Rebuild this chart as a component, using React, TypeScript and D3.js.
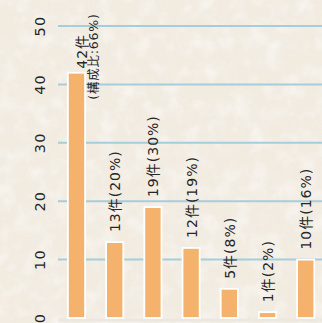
import React from "react";
import * as d3 from "d3";

const categories = ["A", "B", "C", "D", "E", "F", "G"];
const counts = [42, 13, 19, 12, 5, 1, 10];
const percents = [66, 20, 30, 19, 8, 2, 16];
const yTicks = [0, 10, 20, 30, 40, 50];

const W = 322;
const H = 323;
const FAMILY = "'DejaVu Sans', 'Noto Sans CJK JP', sans-serif";

export default function App() {
  const x = d3
    .scaleBand<string>()
    .domain(categories)
    .range([57.4, 57.4 + categories.length * 38.2])
    .paddingInner(0.55)
    .paddingOuter(0.275);
  const y = d3.scaleLinear().domain([0, 50]).range([318, 26]);
  const plotLeft = 58;

  const rotText = (
    cx: number,
    cy: number,
    text: string,
    anchor: string,
    size: number,
    spacing: number,
    key: string
  ) => (
    <text
      key={key}
      transform={`translate(${cx},${cy}) rotate(-90)`}
      textAnchor={anchor}
      dominantBaseline="central"
      fontSize={size}
      fontFamily={FAMILY}
      letterSpacing={spacing}
      fill="#262626"
    >
      {text}
    </text>
  );

  return (
    <div style={{ position: "fixed", left: 0, top: 0, margin: 0 }}>
      <svg width={W} height={H} style={{ display: "block" }}>
        <defs>
          <filter id="paper" x="0" y="0" width="100%" height="100%">
            <feTurbulence type="fractalNoise" baseFrequency="0.03" numOctaves="4" seed="7" result="n" />
            <feColorMatrix
              in="n"
              type="matrix"
              values="0 0 0 0 0.90  0 0 0 0 0.86  0 0 0 0 0.79  0 0 0 1.6 -0.6"
            />
          </filter>
          <filter id="paper2" x="0" y="0" width="100%" height="100%">
            <feTurbulence type="fractalNoise" baseFrequency="0.06" numOctaves="3" seed="11" result="n" />
            <feColorMatrix
              in="n"
              type="matrix"
              values="0 0 0 0 0.98  0 0 0 0 0.97  0 0 0 0 0.95  0 0 0 1.6 -0.7"
            />
          </filter>
        </defs>
        <rect x={0} y={0} width={W} height={H} fill="#f1ebe0" />
        <rect x={0} y={0} width={W} height={H} filter="url(#paper)" opacity={0.9} />
        <rect x={0} y={0} width={W} height={H} filter="url(#paper2)" opacity={0.8} />
        {yTicks
          .filter((t) => t > 0)
          .map((t) => (
            <line
              key={"g" + t}
              x1={plotLeft}
              x2={W}
              y1={y(t)}
              y2={y(t)}
              stroke="#a6cddb"
              strokeWidth={2}
            />
          ))}
        <line x1={plotLeft} x2={W} y1={320} y2={320} stroke="#ebe8e2" strokeWidth={3} />
        {yTicks.map((t) => rotText(40, y(t), String(t), "middle", 14.5, 1.2, "yt" + t))}
        {categories.map((c, i) => (
          <rect
            key={"b" + c}
            x={x(c)!}
            y={y(counts[i])}
            width={x.bandwidth()}
            height={y(0) - y(counts[i])}
            fill="#f5b26d"
            stroke="#ffffff"
            strokeWidth={1.8}
          />
        ))}
        {categories.map((c, i) => {
          const cx = x(c)! + x.bandwidth() / 2;
          const top = y(counts[i]);
          if (i === 0) {
            return (
              <g key={"l" + c}>
                {rotText(cx + 5.5, top - 4, `${counts[i]}件`, "start", 14, 1, "l1")}
                {rotText(cx + 16.5, top + 27, `(構成比:${percents[i]}%)`, "start", 12.5, 0.8, "l2")}
              </g>
            );
          }
          return rotText(cx + 0.5, top - 10, `${counts[i]}件(${percents[i]}%)`, "start", 14, 1, "l" + c);
        })}
      </svg>
    </div>
  );
}
